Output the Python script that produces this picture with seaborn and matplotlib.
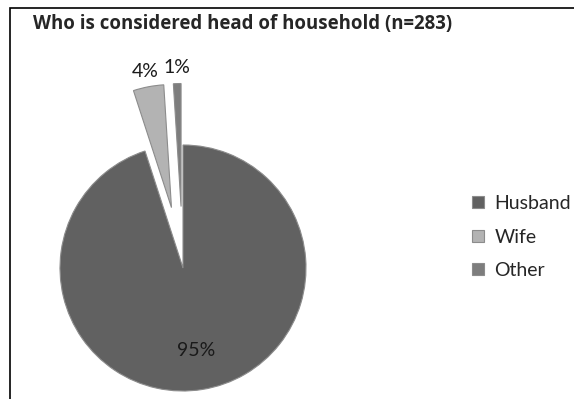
import matplotlib
matplotlib.use("Agg")
import matplotlib.pyplot as plt
from matplotlib.patches import Rectangle
import seaborn as sns

sns.set_style("white")
plt.rcParams['font.family'] = ['Lato', 'DejaVu Sans']

## data ##
categories = ["Husband", "Wife", "Other"]
shares = [95, 4, 1]
colors = ["#616161", "#b3b3b3", "#7d7d7d"]
explode = [0.0, 0.5, 0.5]

fig = plt.figure(figsize=(5.74, 3.99), dpi=100)
ax = fig.add_axes([0, 0, 1, 1])

# small slices get outside labels, big one an inside percentage
outer_labels = ["" if s > 50 else f"{s}%" for s in shares]

def inner_pct(p):
    return f"{p:.0f}%" if p > 50 else ""

wedges, texts, autotexts = ax.pie(
    shares, explode=explode, colors=colors,
    startangle=90, counterclock=False,
    labels=outer_labels, labeldistance=1.13,
    autopct=inner_pct, pctdistance=0.675,
    wedgeprops=dict(edgecolor="#8c8c8c", linewidth=0.8),
    textprops=dict(fontsize=14, color="#1a1a1a", ha="center", va="center"))

# pixel scale: radius of pie = 123 px, centre at (183, 268) from top-left
r = 123
ax.set_xlim(-183 / r, 391 / r)
ax.set_ylim(-131 / r, 268 / r)
ax.set_aspect("equal")
ax.axis("off")

leg = ax.legend(wedges, categories, loc="upper left",
                bbox_to_anchor=(472 / 574, 1 - 195 / 399),
                frameon=False, fontsize=14, handlelength=0.6, handleheight=0.6,
                handletextpad=0.55, labelspacing=0.85, borderaxespad=0, borderpad=0)
for h in leg.legend_handles:
    h.set_edgecolor("#8c8c8c")

fig.text(33 / 574, 1 - 29 / 399, "Who is considered head of household (n=283)",
         fontsize=13.4, fontweight="bold", va="baseline", ha="left",
         family=["Open Sans", "DejaVu Sans"])

# chart border (only left and top edges visible in the crop)
fig.patches.append(Rectangle((9.5 / 574, -0.2), 1.5, 1.2 - 7.5 / 399,
                             transform=fig.transFigure, fill=False,
                             edgecolor="black", linewidth=1.2))

fig.savefig("out.png", dpi=100)
